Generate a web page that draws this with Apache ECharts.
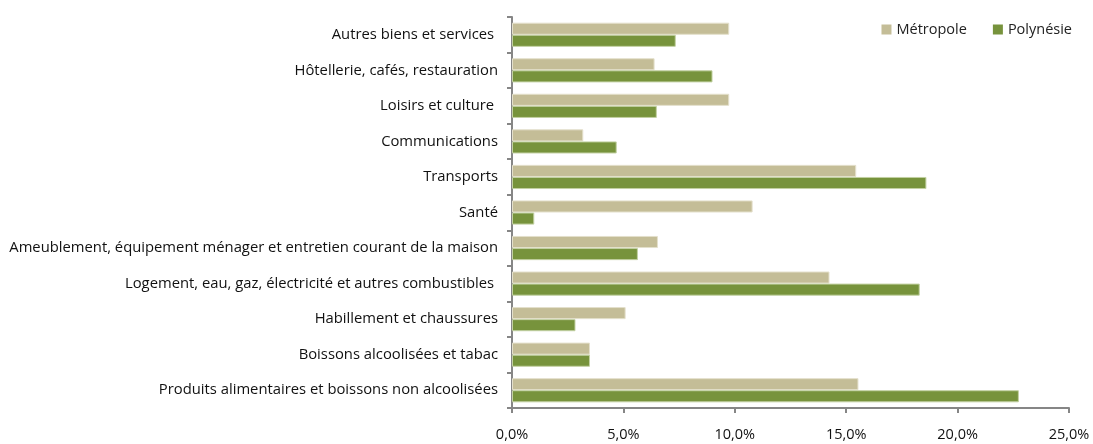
<!DOCTYPE html>
<html>
<head>
<meta charset="utf-8">
<script src="https://cdn.jsdelivr.net/npm/echarts@6/dist/echarts.min.js"></script>
<style>
  html, body { margin: 0; padding: 0; background: #fff; }
  #chart { width: 1093px; height: 444px; }
</style>
</head>
<body>
<div id="chart"></div>
<script>
// catégories, de haut en bas
const categories = [
  'Autres biens et services ',
  'Hôtellerie, cafés, restauration',
  'Loisirs et culture ',
  'Communications',
  'Transports',
  'Santé',
  'Ameublement, équipement ménager et entretien courant de la maison',
  'Logement, eau, gaz, électricité et autres combustibles ',
  'Habillement et chaussures',
  'Boissons alcoolisées et tabac',
  'Produits alimentaires et boissons non alcoolisées'
];
// parts en %
const metropole = [9.75, 6.4, 9.75, 3.2, 15.45, 10.8, 6.55, 14.25, 5.1, 3.5, 15.55];
const polynesie = [7.35, 9.0, 6.5, 4.7, 18.6, 1.0, 5.65, 18.3, 2.85, 3.5, 22.75];
const xTicks = { min: 0, max: 25, interval: 5 };

const chart = echarts.init(document.getElementById('chart'));

const font = '"Open Sans", sans-serif';

chart.setOption({
  animation: false,
  textStyle: { fontFamily: font },
  legend: {
    data: ['Métropole', 'Polynésie'],
    top: 17,
    right: 16,
    itemWidth: 10,
    itemHeight: 10,
    itemGap: 26,
    icon: 'rect',
    itemStyle: { borderWidth: 0 },
    textStyle: { fontSize: 14.5, color: '#222', fontFamily: font }
  },
  grid: { left: 512, right: 24, top: 17, bottom: 36, containLabel: false },
  xAxis: {
    type: 'value',
    min: xTicks.min,
    max: xTicks.max,
    interval: xTicks.interval,
    splitLine: { show: false },
    axisLine: { show: true, lineStyle: { color: '#868686', width: 2 } },
    axisTick: { show: true, length: 5, lineStyle: { color: '#868686', width: 2 } },
    axisLabel: {
      color: '#111',
      fontSize: 14.5,
      margin: 19,
      formatter: v => v.toFixed(1).replace('.', ',') + '%'
    }
  },
  yAxis: {
    type: 'category',
    inverse: true,
    data: categories,
    axisLine: { show: true, lineStyle: { color: '#868686', width: 2 } },
    axisTick: { show: true, length: 5, lineStyle: { color: '#868686', width: 2 } },
    axisLabel: { color: '#111', fontSize: 14.8, margin: 14 }
  },
  series: [
    {
      name: 'Métropole',
      type: 'bar',
      data: metropole,
      barGap: '0%',
      barCategoryGap: '32%',
      itemStyle: { color: '#c4bd97', borderColor: '#e4e0cc', borderWidth: 1 }
    },
    {
      name: 'Polynésie',
      type: 'bar',
      data: polynesie,
      itemStyle: { color: '#77933c', borderColor: '#c3d1a3', borderWidth: 1 }
    }
  ]
});
</script>
</body>
</html>
